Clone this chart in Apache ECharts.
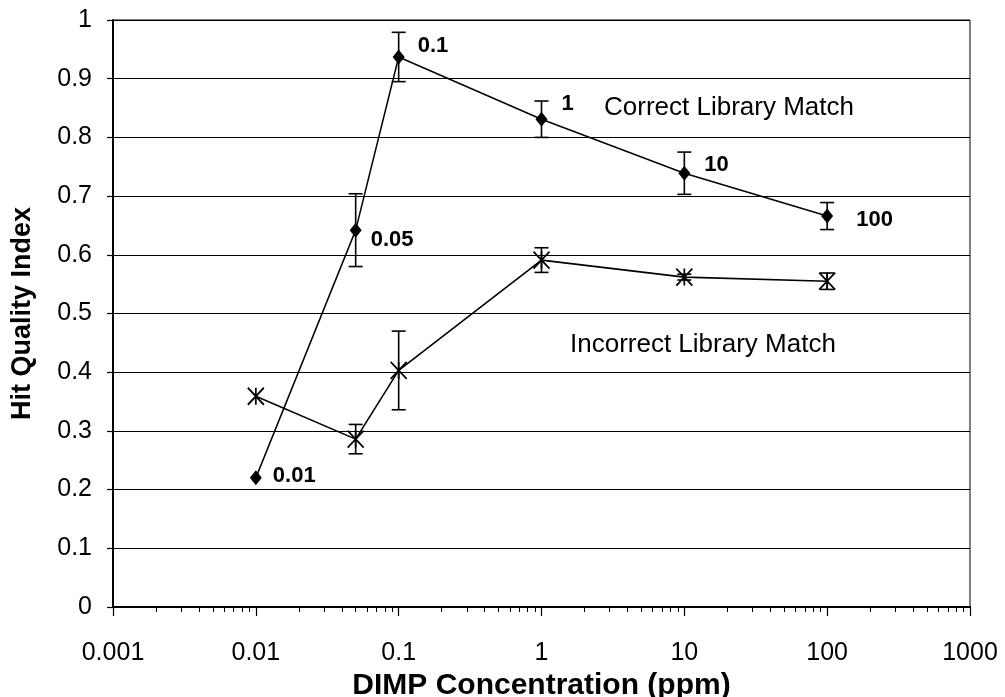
<!DOCTYPE html>
<html><head><meta charset="utf-8">
<script src="https://cdn.jsdelivr.net/npm/echarts@6/dist/echarts.min.js"></script>
<style>html,body{margin:0;padding:0;background:#fff}#c{width:1005px;height:697px}</style>
</head><body><div id="c"></div>
<script>
const concentrations = [0.01, 0.05, 0.1, 1, 10, 100];
const pointLabels = ['0.01', '0.05', '0.1', '1', '10', '100'];
const correctMean = [0.22, 0.642, 0.937, 0.831, 0.739, 0.666];
const correctErr  = [0, 0.062, 0.042, 0.031, 0.036, 0.023];
const incorrectMean = [0.359, 0.286, 0.403, 0.591, 0.562, 0.555];
const incorrectErr  = [0, 0.025, 0.067, 0.021, 0.005, 0.014];
const xTickLabels = ['0.001', '0.01', '0.1', '1', '10', '100', '1000'];
const yTickLabels = ['0', '0.1', '0.2', '0.3', '0.4', '0.5', '0.6', '0.7', '0.8', '0.9', '1'];

const labelOffsets = [[6, -2], [4, 10], [8, -11], [9, -15], [9, -8], [18, 4]];

const correctData = concentrations.map((x, i) => ({
  value: [x, correctMean[i]],
  label: {show: true, formatter: pointLabels[i], position: 'right', offset: labelOffsets[i]}
}));
const incorrectData = concentrations.map((x, i) => [x, incorrectMean[i]]);

function errBars(means, errs) {
  return concentrations.map((x, i) => [x, means[i] - errs[i], means[i] + errs[i]]).filter((d, i) => errs[i] > 0);
}
function renderErr(params, api) {
  const x = api.value(0);
  const lo = api.coord([x, api.value(1)]);
  const hi = api.coord([x, api.value(2)]);
  const w = 7;
  const st = {stroke: '#000', lineWidth: 1.6, fill: null};
  return {type: 'group', children: [
    {type: 'line', shape: {x1: lo[0], y1: lo[1], x2: hi[0], y2: hi[1]}, style: st},
    {type: 'line', shape: {x1: lo[0] - w, y1: lo[1], x2: lo[0] + w, y2: lo[1]}, style: st},
    {type: 'line', shape: {x1: hi[0] - w, y1: hi[1], x2: hi[0] + w, y2: hi[1]}, style: st}
  ]};
}

const chart = echarts.init(document.getElementById('c'), null, {renderer: 'canvas'});
chart.setOption({
  animation: false,
  backgroundColor: '#fff',
  grid: {left: 113, right: 35, top: 20, bottom: 90, show: true, borderColor: '#000', borderWidth: 1,
    containLabel: false, outerBoundsMode: 'none'},
  xAxis: {
    type: 'log', logBase: 10, min: 0.001, max: 1000,
    name: 'DIMP Concentration (ppm)', nameLocation: 'middle', nameGap: 61,
    nameTextStyle: {fontFamily: 'Liberation Sans', fontWeight: 'bold', fontSize: 30, color: '#000'},
    axisLine: {onZero: false, lineStyle: {color: '#000', width: 2}},
    axisTick: {show: true, inside: false, length: 9, lineStyle: {color: '#000', width: 1.2}},
    minorTick: {show: true, splitNumber: 9, length: 5, lineStyle: {color: '#000'}},
    axisLabel: {fontFamily: 'Liberation Sans', fontSize: 25, color: '#000', margin: 34,
      formatter: v => xTickLabels[Math.round(Math.log10(v)) + 3]},
    splitLine: {show: false}
  },
  yAxis: {
    type: 'value', min: 0, max: 1, interval: 0.1,
    name: 'Hit Quality Index', nameLocation: 'middle', nameGap: 77,
    nameTextStyle: {fontFamily: 'Liberation Sans', fontWeight: 'bold', fontSize: 27, color: '#000'},
    axisLine: {show: true, lineStyle: {color: '#000', width: 2}},
    axisTick: {show: true, length: 6, lineStyle: {color: '#000', width: 1.2}},
    axisLabel: {fontFamily: 'Liberation Sans', fontSize: 25, color: '#000', margin: 21,
      formatter: v => yTickLabels[Math.round(v * 10)]},
    splitLine: {show: true, lineStyle: {color: '#000', width: 1.2}}
  },
  series: [
    {
      type: 'line', data: correctData, symbol: 'diamond', symbolSize: [12, 15],
      lineStyle: {color: '#000', width: 1.5}, itemStyle: {color: '#000'},
      label: {fontFamily: 'Liberation Sans', fontWeight: 'bold', fontSize: 22, color: '#000'},
      z: 3
    },
    {
      type: 'line', data: incorrectData,
      symbol: 'path://M0,0L10,11M10,0L0,11M5,0L5,11', symbolSize: [16, 17],
      lineStyle: {color: '#000', width: 1.6}, itemStyle: {color: 'none', borderColor: '#000', borderWidth: 1.8},
      z: 3
    },
    {type: 'custom', data: errBars(correctMean, correctErr), renderItem: renderErr, z: 2},
    {type: 'custom', data: errBars(incorrectMean, incorrectErr), renderItem: renderErr, z: 2}
  ],
  graphic: [
    {type: 'text', x: 604, y: 108, style: {text: 'Correct Library Match', font: '26px "Liberation Sans"', fill: '#000', verticalAlign: 'middle'}},
    {type: 'text', x: 570, y: 345, style: {text: 'Incorrect Library Match', font: '26px "Liberation Sans"', fill: '#000', verticalAlign: 'middle'}}
  ]
});
</script></body></html>
